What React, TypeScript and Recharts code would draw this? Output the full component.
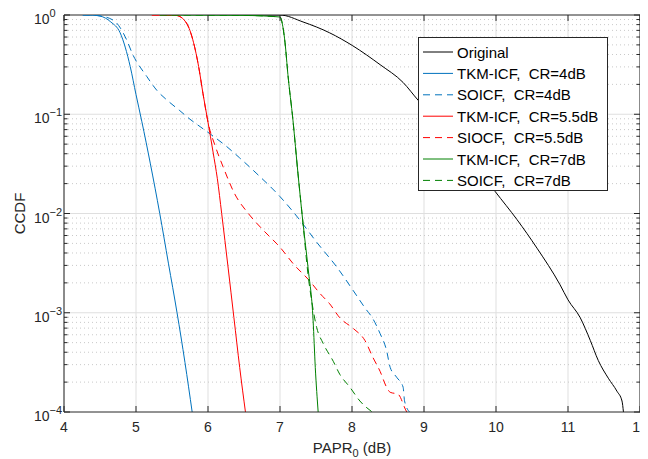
import React from 'react';
import { LineChart, Line, XAxis, YAxis, CartesianGrid, ReferenceLine, Legend } from 'recharts';

// ---------- data ----------
const X_TICKS = [4, 5, 6, 7, 8, 9, 10, 11, 12];
const Y_MAJOR = [0.0001, 0.001, 0.01, 0.1, 1];
const Y_EXPONENT_LABELS = ['\u22124', '\u22123', '\u22122', '\u22121', '0'];
const Y_MINOR = [
  0.0002, 0.0003, 0.0004, 0.0005, 0.0006, 0.0007, 0.0008, 0.0009,
  0.002, 0.003, 0.004, 0.005, 0.006, 0.007, 0.008, 0.009,
  0.02, 0.03, 0.04, 0.05, 0.06, 0.07, 0.08, 0.09,
  0.2, 0.3, 0.4, 0.5, 0.6, 0.7, 0.8, 0.9,
];

const ORIGINAL: [number, number][] = [
  [6.5, 1], [7.0, 1], [7.32, 0.851], [7.69, 0.661], [8.01, 0.49], [8.39, 0.316],
  [8.71, 0.209], [8.92, 0.138], [9.2, 0.0851], [9.5, 0.0479], [9.75, 0.0282],
  [9.99, 0.0166], [10.29, 0.00871], [10.57, 0.00447], [10.89, 0.00191], [11.0, 0.00135],
  [11.17, 0.000891], [11.31, 0.000525], [11.42, 0.000331], [11.56, 0.000219],
  [11.68, 0.000162], [11.75, 0.000129], [11.77, 0.0001],
];
const TKM_4: [number, number][] = [
  [4.26, 1], [4.4, 0.995], [4.5, 0.977], [4.65, 0.851], [4.78, 0.661], [4.92, 0.302],
  [5.0, 0.158], [5.08, 0.0851], [5.2, 0.0316], [5.33, 0.01], [5.45, 0.00316],
  [5.57, 0.001], [5.68, 0.000316], [5.78, 0.0001],
];
const SOICF_4: [number, number][] = [
  [4.26, 1], [4.4, 0.995], [4.5, 0.98], [4.7, 0.87], [4.87, 0.562], [4.95, 0.407],
  [5.15, 0.24], [5.29, 0.174], [5.45, 0.135], [5.6, 0.11], [5.75, 0.0891],
  [5.9, 0.0741], [6.07, 0.0603], [6.25, 0.0479], [6.44, 0.0363], [6.68, 0.0251],
  [7.0, 0.0148], [7.28, 0.00851], [7.51, 0.00513], [7.79, 0.00288], [8.02, 0.00166],
  [8.18, 0.00112], [8.29, 0.00087], [8.39, 0.000617], [8.48, 0.000417],
  [8.53, 0.000282], [8.62, 0.000224], [8.71, 0.000178], [8.73, 0.000129], [8.8, 0.0001],
];
const TKM_55: [number, number][] = [
  [5.22, 1], [5.5, 0.995], [5.56, 0.99], [5.7, 0.832], [5.8, 0.525], [5.87, 0.302],
  [5.93, 0.162], [6.0, 0.0832], [6.07, 0.0417], [6.13, 0.0224], [6.19, 0.01],
  [6.28, 0.00282], [6.36, 0.000891], [6.44, 0.000282], [6.52, 0.0001],
];
const SIOCF_55: [number, number][] = [
  [5.22, 1], [5.5, 0.995], [5.56, 0.99], [5.7, 0.832], [5.8, 0.525], [5.87, 0.302],
  [5.93, 0.162], [6.0, 0.0832], [6.1, 0.0479], [6.21, 0.0295], [6.37, 0.0158],
  [6.56, 0.01], [6.77, 0.00676], [7.0, 0.00457], [7.2, 0.00302], [7.4, 0.00214],
  [7.56, 0.00155], [7.69, 0.00123], [7.83, 0.000891], [8.02, 0.000692],
  [8.18, 0.000525], [8.29, 0.000355], [8.39, 0.000257], [8.48, 0.000178],
  [8.53, 0.000158], [8.64, 0.000151], [8.74, 0.000107], [8.76, 0.0001],
];
const TKM_7: [number, number][] = [
  [5.33, 1], [6.5, 0.99], [7.0, 0.955], [7.04, 0.76], [7.07, 0.525], [7.11, 0.251],
  [7.18, 0.0871], [7.25, 0.0251], [7.32, 0.00794], [7.39, 0.00282],
  [7.46, 0.000832], [7.49, 0.000282], [7.53, 0.0001],
];
const SOICF_7: [number, number][] = [
  [5.33, 1], [6.5, 0.99], [7.0, 0.955], [7.04, 0.76], [7.07, 0.525], [7.11, 0.251],
  [7.18, 0.0871], [7.25, 0.0251], [7.32, 0.00794], [7.39, 0.0024], [7.44, 0.00132],
  [7.51, 0.000708], [7.6, 0.00049], [7.74, 0.000324], [7.83, 0.00024],
  [7.97, 0.000178], [8.11, 0.000129], [8.28, 0.0001],
];

const SERIES_NAMES = [
  'Original',
  'TKM-ICF,\u00A0\u00A0CR=4dB',
  'SOICF,\u00A0\u00A0CR=4dB',
  'TKM-ICF,\u00A0\u00A0CR=5.5dB',
  'SIOCF,\u00A0\u00A0CR=5.5dB',
  'TKM-ICF,\u00A0\u00A0CR=7dB',
  'SOICF,\u00A0\u00A0CR=7dB',
];
const SERIES_DATA = [ORIGINAL, TKM_4, SOICF_4, TKM_55, SIOCF_55, TKM_7, SOICF_7];

// ---------- styles ----------
const COLORS = ['#000000', '#0072BD', '#0072BD', '#FF0000', '#FF0000', '#008000', '#008000'];
const DASHED = [false, false, true, false, true, false, true];
const FONT = '"Liberation Sans", Arial, Helvetica, sans-serif';
const AXIS = '#262626';
const GRID_MAJOR = '#dfdfdf';
const GRID_MINOR = '#c9c9c9';

const W = 640;
const H = 451;
const PLOT_LEFT = 56;
const PLOT_RIGHT = 632;
const PLOT_TOP = 7;
const PLOT_BOTTOM = 404;

const toPoints = (arr: [number, number][]) => arr.map(([x, y]) => ({ x, y }));

const XTick = (props: any) => {
  const { x, payload } = props;
  return (
    <g>
      <line x1={x} x2={x} y1={PLOT_BOTTOM} y2={PLOT_BOTTOM - 6} stroke={AXIS} />
      <line x1={x} x2={x} y1={PLOT_TOP} y2={PLOT_TOP + 6} stroke={AXIS} />
      <text x={x} y={PLOT_BOTTOM + 20} textAnchor="middle" fontSize={14} fill={AXIS} fontFamily={FONT}>
        {payload.value}
      </text>
    </g>
  );
};

const YTick = (props: any) => {
  const { y, payload } = props;
  const v = payload.value;
  const idx = Y_MAJOR.findIndex((m) => Math.abs(m - v) / m < 1e-6);
  const major = idx >= 0;
  const len = major ? 6 : 3.5;
  return (
    <g>
      <line x1={PLOT_LEFT} x2={PLOT_LEFT + len} y1={y} y2={y} stroke={AXIS} />
      <line x1={PLOT_RIGHT - len} x2={PLOT_RIGHT} y1={y} y2={y} stroke={AXIS} />
      {major && (
        <text x={PLOT_LEFT - 30} y={y + 9} textAnchor="start" fontSize={14} fill={AXIS} fontFamily={FONT}>
          10
          <tspan dy={-7} fontSize={11}>{Y_EXPONENT_LABELS[idx]}</tspan>
        </text>
      )}
    </g>
  );
};

const LegendBox = () => (
  <svg width={190} height={154} style={{ display: 'block' }}>
    <rect x={0.5} y={0.5} width={189} height={153} fill="#ffffff" stroke={AXIS} strokeWidth={1} />
    {SERIES_NAMES.map((name, i) => {
      const cy = 15 + i * 21.4;
      return (
        <g key={name}>
          <line
            x1={5}
            x2={35}
            y1={cy}
            y2={cy}
            stroke={COLORS[i]}
            strokeWidth={1}
            strokeDasharray={DASHED[i] ? '7 5' : undefined}
          />
          <text x={39} y={cy + 5.5} fontSize={15} fill="#000" fontFamily={FONT}>
            {name}
          </text>
        </g>
      );
    })}
  </svg>
);

export default function App() {
  return (
    <LineChart
      width={W}
      height={H}
      margin={{ top: PLOT_TOP, right: W - PLOT_RIGHT, bottom: H - PLOT_BOTTOM - 30, left: 0 }}
      style={{ fontFamily: FONT, background: '#fff' }}
    >
      <CartesianGrid vertical horizontal={false} stroke={GRID_MAJOR} verticalValues={X_TICKS} />
      {Y_MINOR.map((v) => (
        <ReferenceLine key={'mn' + v} y={v} stroke={GRID_MINOR} strokeDasharray="1 3" ifOverflow="extendDomain" />
      ))}
      {Y_MAJOR.slice(1, 4).map((v) => (
        <ReferenceLine key={'mj' + v} y={v} stroke={GRID_MAJOR} />
      ))}
      <ReferenceLine y={1} stroke={AXIS} />
      <ReferenceLine x={12} stroke={AXIS} />
      <XAxis
        dataKey="x"
        type="number"
        domain={[4, 12]}
        ticks={X_TICKS}
        allowDataOverflow
        height={30}
        tickLine={false}
        tickSize={0}
        axisLine={{ stroke: AXIS }}
        tick={<XTick />}
        interval={0}
        label={{
          content: () => (
            <text x={(PLOT_LEFT + PLOT_RIGHT) / 2} y={445} textAnchor="middle" fontSize={15} fill={AXIS} fontFamily={FONT}>
              PAPR<tspan dy={4} fontSize={11}>0</tspan>
              <tspan dy={-4}> (dB)</tspan>
            </text>
          ),
        }}
      />
      <YAxis
        type="number"
        scale="log"
        domain={[0.0001, 1]}
        allowDataOverflow
        ticks={[...Y_MAJOR, ...Y_MINOR].sort((a, b) => a - b)}
        width={PLOT_LEFT}
        tickLine={false}
        tickSize={0}
        axisLine={{ stroke: AXIS }}
        tick={<YTick />}
        interval={0}
        label={{
          content: () => (
            <text
              x={17}
              y={(PLOT_TOP + PLOT_BOTTOM) / 2}
              textAnchor="middle"
              fontSize={15}
              fill={AXIS}
              fontFamily={FONT}
              transform={`rotate(-90 17 ${(PLOT_TOP + PLOT_BOTTOM) / 2})`}
            >
              CCDF
            </text>
          ),
        }}
      />
      {SERIES_DATA.map((d, i) => (
        <Line
          key={SERIES_NAMES[i]}
          data={toPoints(d)}
          dataKey="y"
          name={SERIES_NAMES[i]}
          type="monotone"
          stroke={COLORS[i]}
          strokeWidth={1}
          strokeDasharray={DASHED[i] ? '7 5' : undefined}
          dot={false}
          activeDot={false}
          isAnimationActive={false}
        />
      ))}
      <Legend
        layout="vertical"
        align="center"
        verticalAlign="middle"
        wrapperStyle={{ left: 410, top: 29, width: 190, height: 154 }}
        content={() => <LegendBox />}
      />
    </LineChart>
  );
}
